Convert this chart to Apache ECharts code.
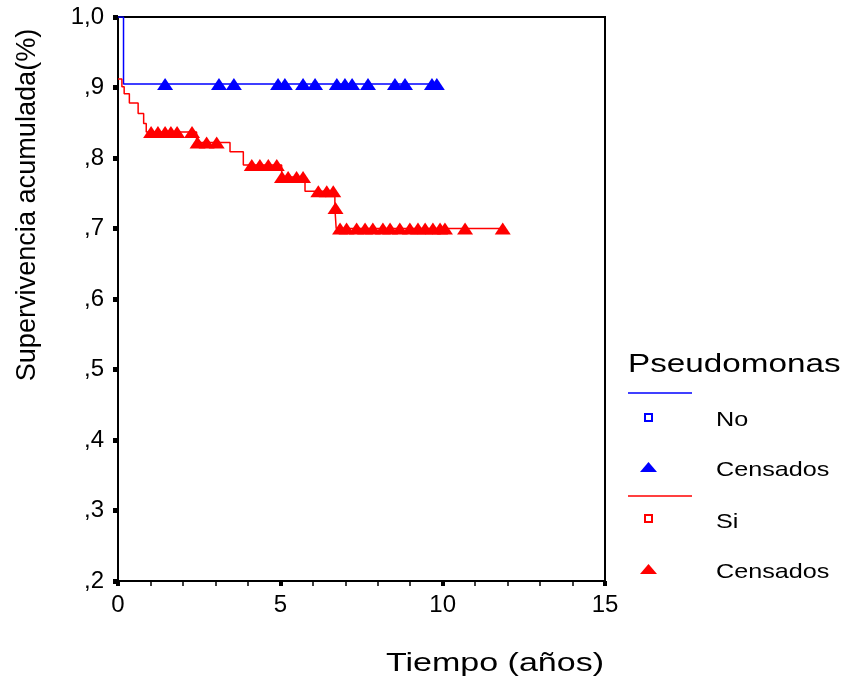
<!DOCTYPE html>
<html>
<head>
<meta charset="utf-8">
<script src="https://cdn.jsdelivr.net/npm/echarts@6/dist/echarts.min.js"></script>
<style>
  html, body { margin: 0; padding: 0; background: #fff; }
  #chart { width: 842px; height: 684px; }
</style>
</head>
<body>
<div id="chart"></div>
<script>
// Kaplan-Meier steps: time (years) and cumulative survival after each step
const noTimes = [0, 0.17, 9.82];
const noSurv  = [1.0, 0.905, 0.905];
const noCensored = [1.45, 3.11, 3.57, 4.93, 5.14, 5.70, 6.07, 6.74, 6.99, 7.21, 7.70, 8.53, 8.84, 9.67, 9.82];

const siTimes = [0, 0.12, 0.19, 0.35, 0.62, 0.79, 0.87, 2.42, 3.45, 3.86, 5.04, 5.76, 6.68, 6.72, 11.85];
const siSurv  = [0.912, 0.901, 0.891, 0.878, 0.863, 0.849, 0.837, 0.822, 0.809, 0.790, 0.773, 0.753, 0.729, 0.700, 0.700];
const siCensored = [1.02, 1.23, 1.45, 1.63, 1.82, 2.28, 2.45, 2.73, 3.04, 4.12, 4.37, 4.63, 4.89, 5.05, 5.24, 5.50, 5.70,
                    6.17, 6.43, 6.63, 6.70, 6.84, 7.04, 7.35, 7.61, 7.85, 8.16, 8.38, 8.68, 8.99, 9.24, 9.46, 9.70,
                    9.92, 10.07, 10.69, 11.85];

const xTicks = [0, 5, 10, 15];
const yTickLabels = [',2', ',3', ',4', ',5', ',6', ',7', ',8', ',9', '1,0'];

const FONT = '"Liberation Sans", Arial, sans-serif';
const BLUE = '#0000ff';
const RED = '#ff0000';

// survival level of a step curve at time t
function survivalAt(times, surv, t) {
  let s = surv[0];
  for (let i = 0; i < times.length; i++) {
    if (times[i] <= t) s = surv[i];
  }
  return s;
}

const pairs = (xs, ys) => xs.map((x, i) => [x, ys[i]]);
const censorPoints = (ts, times, surv) => ts.map(t => [t, survivalAt(times, surv, t)]);

const chart = echarts.init(document.getElementById('chart'), null, { renderer: 'canvas' });

const legendX = 628;
const option = {
  animation: false,
  backgroundColor: '#fff',
  grid: {
    left: 118, right: 237, top: 17, bottom: 103,
    show: true, borderColor: '#000', borderWidth: 2, backgroundColor: 'transparent'
  },
  xAxis: {
    type: 'value', min: xTicks[0], max: xTicks[xTicks.length - 1], interval: 5,
    axisLine: { show: true, onZero: false, lineStyle: { color: '#000', width: 2 } },
    axisTick: { show: true, length: 5, lineStyle: { color: '#000', width: 4 } },
    minorTick: { show: true, splitNumber: 5, length: 5, lineStyle: { color: '#000', width: 1.5 } },
    splitLine: { show: false },
    axisLabel: { color: '#000', fontFamily: FONT, fontSize: 24, margin: 12 }
  },
  yAxis: {
    type: 'value', min: 0.2, max: 1.0, interval: 0.1,
    axisLine: { show: true, onZero: false, lineStyle: { color: '#000', width: 2 } },
    axisTick: { show: true, length: 5, lineStyle: { color: '#000', width: 5 } },
    splitLine: { show: false },
    axisLabel: {
      color: '#000', fontFamily: FONT, fontSize: 24, margin: 14,
      formatter: v => yTickLabels[Math.round(v * 10) - 2]
    }
  },
  series: [
    {
      name: 'No', type: 'line', step: 'end', data: pairs(noTimes, noSurv),
      showSymbol: false, lineStyle: { color: BLUE, width: 1.5 }, z: 3
    },
    {
      name: 'Si', type: 'line', step: 'end', data: pairs(siTimes, siSurv),
      showSymbol: false, lineStyle: { color: RED, width: 1.5 }, z: 3
    },
    {
      name: 'Censados No', type: 'scatter', symbol: 'triangle', symbolSize: [16, 12],
      data: censorPoints(noCensored, noTimes, noSurv),
      itemStyle: { color: BLUE, opacity: 1 }, z: 4
    },
    {
      name: 'Censados Si', type: 'scatter', symbol: 'triangle', symbolSize: [16, 12],
      data: censorPoints(siCensored, siTimes, siSurv),
      itemStyle: { color: RED, opacity: 1 }, z: 4
    }
  ],
  graphic: [
    // axis titles
    {
      type: 'text', x: 495, y: 664, scaleX: 1.36,
      style: { text: 'Tiempo (años)', font: '25px ' + FONT, fill: '#000', align: 'center', verticalAlign: 'middle' }
    },
    {
      type: 'text', x: 27, y: 205, rotation: Math.PI / 2, scaleX: 1.13, scaleY: 1.15,
      style: { text: 'Supervivencia acumulada(%)', font: '24px ' + FONT, fill: '#000', align: 'center', verticalAlign: 'middle' }
    },
    // legend
    {
      type: 'text', x: legendX, y: 365, scaleX: 1.33,
      style: { text: 'Pseudomonas', font: '25px ' + FONT, fill: '#000', align: 'left', verticalAlign: 'middle' }
    },
    { type: 'line', shape: { x1: legendX, y1: 393, x2: legendX + 64, y2: 393 }, style: { stroke: BLUE, lineWidth: 1.5 } },
    { type: 'rect', shape: { x: 645, y: 414, width: 7, height: 7 }, style: { fill: '#fff', stroke: BLUE, lineWidth: 2 } },
    {
      type: 'text', x: 716, y: 420, scaleX: 1.2,
      style: { text: 'No', font: '21px ' + FONT, fill: '#000', align: 'left', verticalAlign: 'middle' }
    },
    { type: 'polygon', shape: { points: [[640, 472], [657, 472], [648.5, 462]] }, style: { fill: BLUE } },
    {
      type: 'text', x: 716, y: 470, scaleX: 1.2,
      style: { text: 'Censados', font: '21px ' + FONT, fill: '#000', align: 'left', verticalAlign: 'middle' }
    },
    { type: 'line', shape: { x1: legendX, y1: 496, x2: legendX + 64, y2: 496 }, style: { stroke: RED, lineWidth: 1.5 } },
    { type: 'rect', shape: { x: 645, y: 515, width: 7, height: 7 }, style: { fill: '#fff', stroke: RED, lineWidth: 2 } },
    {
      type: 'text', x: 716, y: 522, scaleX: 1.2,
      style: { text: 'Si', font: '21px ' + FONT, fill: '#000', align: 'left', verticalAlign: 'middle' }
    },
    { type: 'polygon', shape: { points: [[640, 574], [657, 574], [648.5, 564]] }, style: { fill: RED } },
    {
      type: 'text', x: 716, y: 572, scaleX: 1.2,
      style: { text: 'Censados', font: '21px ' + FONT, fill: '#000', align: 'left', verticalAlign: 'middle' }
    }
  ]
};

chart.setOption(option);
</script>
</body>
</html>
